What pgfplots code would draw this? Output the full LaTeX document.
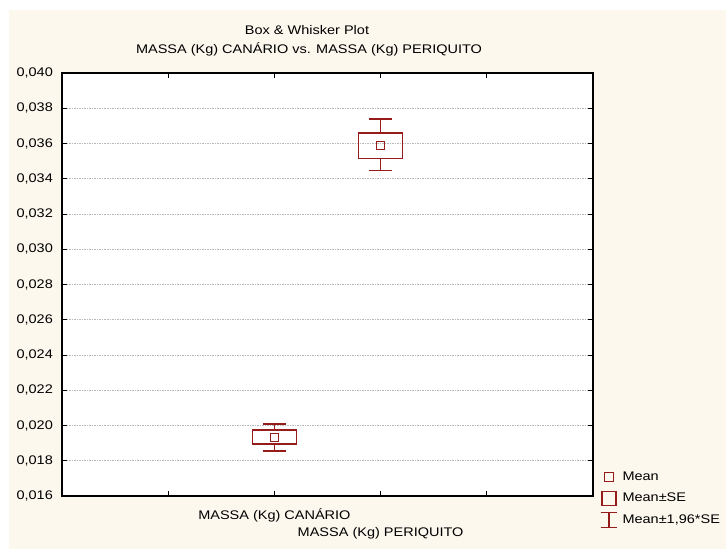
\documentclass[border=0pt]{standalone}
\usepackage{pgfplots}
\pgfplotsset{compat=1.18}
\usepackage{fontspec}
\setmainfont{Liberation Sans}[FakeStretch=1.16]
\definecolor{cream}{RGB}{252,248,238}
\definecolor{boxred}{RGB}{150,28,28}
\definecolor{gridgray}{RGB}{185,185,185}
\newcommand{\chartfont}{\fontsize{12.5}{15}\selectfont}
\begin{document}
\chartfont
\begin{tikzpicture}
\fill[white] (0pt,0pt) rectangle (726pt,549pt);
\fill[cream] (9pt,0pt) rectangle (726pt,539pt);
\node[font=\chartfont, anchor=base] at (307pt,514pt) {Box \& Whisker Plot};
\node[font=\chartfont, anchor=base] at (309pt,495.7pt) {MASSA (Kg) CANÁRIO vs. MASSA (Kg) PERIQUITO};
\begin{axis}[
  at={(62pt,53pt)}, anchor=south west,
  width=531pt, height=423pt, scale only axis,
  axis background/.style={fill=white},
  xmin=0, xmax=5, ymin=0.016, ymax=0.040,
  xtick={1,2,3,4},
  xticklabels={,MASSA (Kg) CANÁRIO,,},
  extra x ticks={3},
  extra x tick labels={MASSA (Kg) PERIQUITO},
  extra x tick style={xticklabel style={yshift=-19pt}},
  ytick={0.016,0.018,0.020,0.022,0.024,0.026,0.028,0.030,0.032,0.034,0.036,0.038,0.040},
  tick align=inside,
  major tick length=5pt,
  tick style={black, line width=0.8pt},
  axis line style={black, line width=1.4pt},
  ymajorgrids,
  major grid style={gridgray, line width=0.6pt, dash pattern=on 1.5pt off 1pt},
  scaled y ticks=false,
  yticklabel style={xshift=-4.8pt},
  y tick label style={/pgf/number format/.cd, fixed, fixed zerofill, precision=3, use comma, assume math mode=true},
  xticklabel style={yshift=-8pt},
  tick label style={font=\chartfont},
  legend style={at={(1.0132,0.0615)}, anchor=north west, draw=none, fill=none,
    font=\chartfont, row sep=6pt, column sep=3pt, inner sep=0pt, nodes={inner sep=2pt},
    legend cell align=left},
]
\addlegendimage{legend image code/.code={\draw[boxred, line width=1pt] (-4.5pt,-4.5pt) rectangle (4.5pt,4.5pt);}}
\addlegendentry{Mean}
\addlegendimage{legend image code/.code={\draw[boxred, line width=1.3pt] (-7pt,-7pt) rectangle (7pt,7pt);}}
\addlegendentry{Mean±SE}
\addlegendimage{legend image code/.code={\draw[boxred, line width=1.3pt] (0pt,-7.5pt) -- (0pt,7.5pt); \draw[boxred, line width=1.3pt] (-8pt,-7.5pt) -- (8pt,-7.5pt); \draw[boxred, line width=1.3pt] (-8pt,7.5pt) -- (8pt,7.5pt);}}
\addlegendentry{Mean±1,96*SE}

% CANARIO: mean 0.01934, SE box 0.01895-0.01973, whiskers 0.01857-0.02010
\addplot[boxred, line width=1.6pt, forget plot] coordinates {(1.7925,0.01895) (2.2075,0.01895) (2.2075,0.01973) (1.7925,0.01973)} -- cycle;
\addplot[boxred, line width=1.6pt, forget plot] coordinates {(2,0.01973) (2,0.02010)};
\addplot[boxred, line width=1.6pt, forget plot] coordinates {(2,0.01895) (2,0.01857)};
\addplot[boxred, line width=1.6pt, forget plot] coordinates {(1.89,0.02010) (2.11,0.02010)};
\addplot[boxred, line width=1.6pt, forget plot] coordinates {(1.89,0.01857) (2.11,0.01857)};
% PERIQUITO: mean 0.03590, SE box 0.03514-0.03661, whiskers 0.03446-0.03738
\addplot[boxred, line width=1.6pt, forget plot] coordinates {(2.7925,0.03514) (3.2075,0.03514) (3.2075,0.03661) (2.7925,0.03661)} -- cycle;
\addplot[boxred, line width=1.6pt, forget plot] coordinates {(3,0.03661) (3,0.03738)};
\addplot[boxred, line width=1.6pt, forget plot] coordinates {(3,0.03514) (3,0.03446)};
\addplot[boxred, line width=1.6pt, forget plot] coordinates {(2.89,0.03738) (3.11,0.03738)};
\addplot[boxred, line width=1.6pt, forget plot] coordinates {(2.89,0.03446) (3.11,0.03446)};
\addplot[only marks, mark=square, mark size=4pt, boxred, line width=1pt, forget plot]
  coordinates {(2,0.01934) (3,0.03590)};
\end{axis}
\end{tikzpicture}
\end{document}
